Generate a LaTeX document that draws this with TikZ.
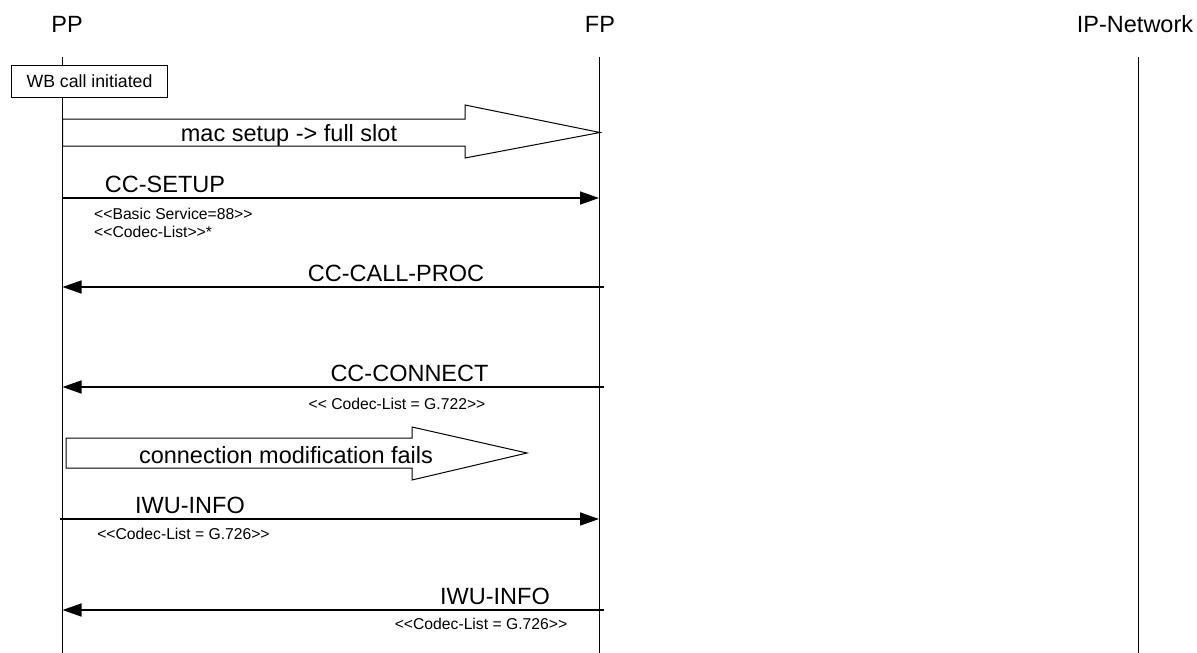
\documentclass[tikz,border=0pt]{standalone}
\usepackage{fontspec}
\setmainfont{Liberation Sans}
\usetikzlibrary{arrows.meta,positioning}

\begin{document}
\begin{tikzpicture}[
  x=1pt, y=-1pt,
  header/.style={font=\fontsize{23.5}{28}\selectfont, inner sep=0pt, anchor=base},
  lifeline/.style={line width=1pt},
  msglabel/.style={font=\fontsize{23.5}{28}\selectfont, inner sep=0pt, anchor=base},
  param/.style={font=\fontsize{15.7}{18}\selectfont, inner sep=0pt, anchor=base},
  msg/.style={-{Triangle[length=19pt, width=13pt]}, line width=1.5pt},
  fatarrow/.style={draw, line width=1pt, fill=white},
  notebox/.style={
    rectangle,
    draw,
    line width=1pt,
    fill=white,
    minimum width=156pt,
    minimum height=32pt,
    font=\fontsize{17.7}{20}\selectfont
  }
]
\useasboundingbox (0,0) rectangle (1197,653);

\node[header] (pp) at (67,32) {PP};
\node[header] (fp) at (600,32) {FP};
\node[header] (ipnet) at (1135,32) {IP-Network};

\coordinate (ppTop) at (62.5,57);
\coordinate (ppBot) at (62.5,653);
\coordinate (fpTop) at (599,57);
\coordinate (fpBot) at (599,653);
\coordinate (ipTop) at (1138,57);
\coordinate (ipBot) at (1138,653);

\draw[lifeline] (ppTop) -- (ppBot);
\draw[lifeline] (fpTop) -- (fpBot);
\draw[lifeline] (ipTop) -- (ipBot);

\node[notebox] (wbcall) at (89.5,81) {WB call initiated};

% mac setup
\coordinate (macS) at (62.5,132.5);
\coordinate (macE) at (600,132.5);
\draw[fatarrow] (macS) -- (62.5,119) -- (465,119) -- (465,105) -- (macE)
  -- (465,158) -- (465,146) -- (62.5,146) -- cycle;
\node[msglabel] (maclbl) at (289,141) {mac setup -> full slot};

% CC-SETUP
\coordinate (setupS) at (62.5,198);
\coordinate (setupE) at (599,198);
\draw[msg] (setupS) -- (setupE);
\node[msglabel] (setuplbl) at (165,192) {CC-SETUP};
\node[param, anchor=base west] (setupp1) at (94,219) {<{}<Basic Service=88>{}>};
\node[param, anchor=base west] (setupp2) at (94,237) {<{}<Codec-List>{}>*};

% CC-CALL-PROC
\coordinate (procS) at (604,287);
\coordinate (procE) at (62.5,287);
\draw[msg] (procS) -- (procE);
\node[msglabel] (proclbl) at (396,281) {CC-CALL-PROC};

% CC-CONNECT
\coordinate (connS) at (604,387);
\coordinate (connE) at (62.5,387);
\draw[msg] (connS) -- (connE);
\node[msglabel] (connlbl) at (409.5,381) {CC-CONNECT};
\node[param] (connp) at (397,409) {<{}< Codec-List = G.722>{}>};

% connection modification
\coordinate (modS) at (66,453);
\coordinate (modE) at (527,453);
\draw[fatarrow] (modS) -- (66,438) -- (412,438) -- (412,427) -- (modE)
  -- (412,480) -- (412,468) -- (66,468) -- cycle;
\node[msglabel] (modlbl) at (286,463) {connection modification fails};

% IWU-INFO
\coordinate (iwuS) at (60,519);
\coordinate (iwuE) at (599,519);
\draw[msg] (iwuS) -- (iwuE);
\node[msglabel] (iwulbl) at (190,513) {IWU-INFO};
\node[param] (iwup) at (183.5,539) {<{}<Codec-List = G.726>{}>};

\coordinate (iwubS) at (604,610);
\coordinate (iwubE) at (62.5,610);
\draw[msg] (iwubS) -- (iwubE);
\node[msglabel] (iwublbl) at (495,604) {IWU-INFO};
\node[param] (iwubp) at (481,629) {<{}<Codec-List = G.726>{}>};

\end{tikzpicture}
\end{document}
